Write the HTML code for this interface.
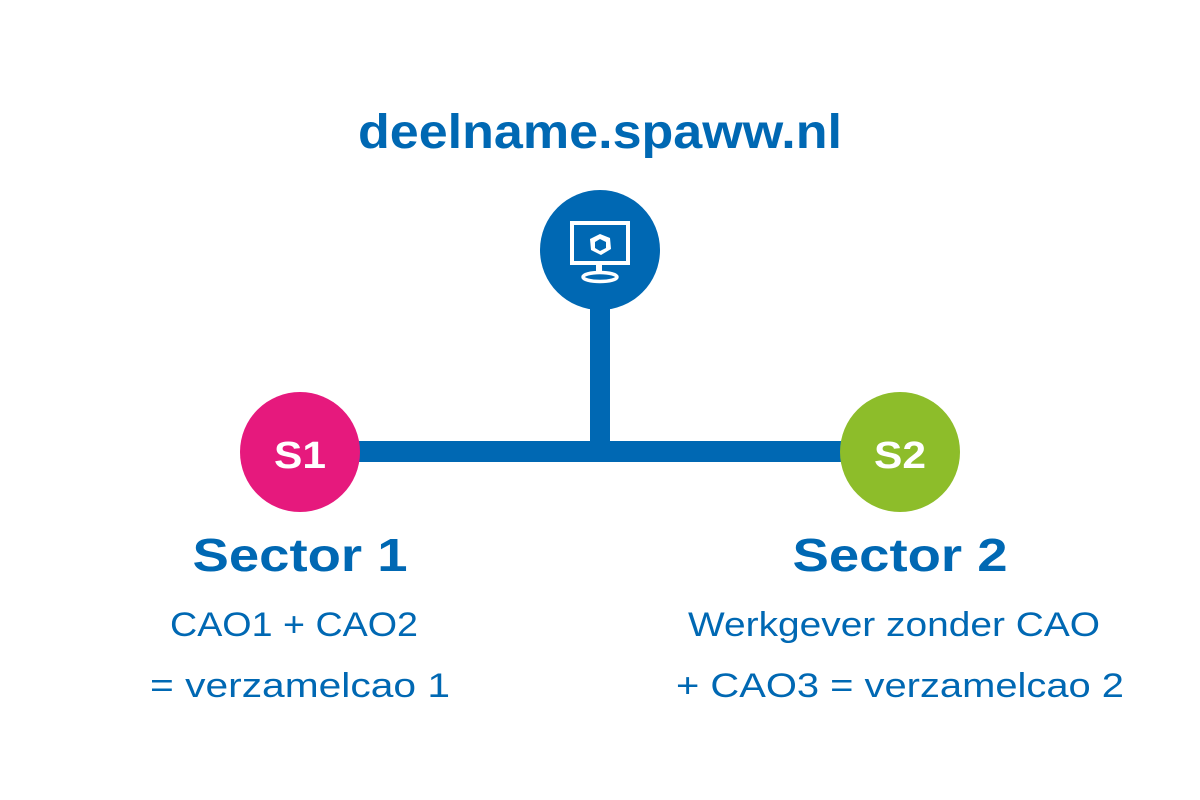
<!DOCTYPE html>
<html><head><meta charset="utf-8"><style>
html,body{margin:0;padding:0;background:#fff;}
svg{display:block;}
text{font-family:"Liberation Sans",sans-serif;}
</style></head><body>
<svg width="1200" height="800" viewBox="0 0 1200 800" xmlns="http://www.w3.org/2000/svg">
<rect width="1200" height="800" fill="#fff"/>
<text x="600" y="148" text-anchor="middle" font-size="48" font-weight="bold" fill="#0068b3" textLength="484" lengthAdjust="spacingAndGlyphs">deelname.spaww.nl</text>
<rect x="590" y="290" width="20" height="172" fill="#0068b3"/>
<rect x="340" y="441" width="520" height="21" fill="#0068b3"/>
<circle cx="600" cy="250" r="60" fill="#0068b3"/>
<rect x="572" y="223" width="56" height="40" fill="none" stroke="#fff" stroke-width="4"/>
<rect x="596" y="263" width="6" height="10" fill="#fff"/>
<ellipse cx="600" cy="277" rx="17" ry="4.5" fill="none" stroke="#fff" stroke-width="3.5"/>
<path d="M600 234 L610 238 L611 249 L601 255 L591 250 L590 239 Z" fill="#fff"/>
<path d="M600 239 L606 242 L606 248 L600 251 L595 248 L595 242 Z" fill="#0068b3"/>
<circle cx="300" cy="452" r="60" fill="#e6197d"/>
<circle cx="900" cy="452" r="60" fill="#8dbd2a"/>
<text x="300" y="468" text-anchor="middle" font-size="38" font-weight="900" fill="#fff" textLength="52" lengthAdjust="spacingAndGlyphs">S1</text>
<text x="900" y="468" text-anchor="middle" font-size="38" font-weight="900" fill="#fff" textLength="52" lengthAdjust="spacingAndGlyphs">S2</text>
<text x="300" y="571" text-anchor="middle" font-size="46" font-weight="bold" fill="#0068b3" textLength="215" lengthAdjust="spacingAndGlyphs">Sector 1</text>
<text x="900" y="571" text-anchor="middle" font-size="46" font-weight="bold" fill="#0068b3" textLength="215" lengthAdjust="spacingAndGlyphs">Sector 2</text>
<text x="294" y="636" text-anchor="middle" font-size="34" fill="#0068b3" textLength="248" lengthAdjust="spacingAndGlyphs">CAO1 + CAO2</text>
<text x="300" y="697" text-anchor="middle" font-size="34" fill="#0068b3" textLength="300" lengthAdjust="spacingAndGlyphs">= verzamelcao 1</text>
<text x="894" y="636" text-anchor="middle" font-size="34" fill="#0068b3" textLength="412" lengthAdjust="spacingAndGlyphs">Werkgever zonder CAO</text>
<text x="900" y="697" text-anchor="middle" font-size="34" fill="#0068b3" textLength="448" lengthAdjust="spacingAndGlyphs">+ CAO3 = verzamelcao 2</text>
</svg>
</body></html>
